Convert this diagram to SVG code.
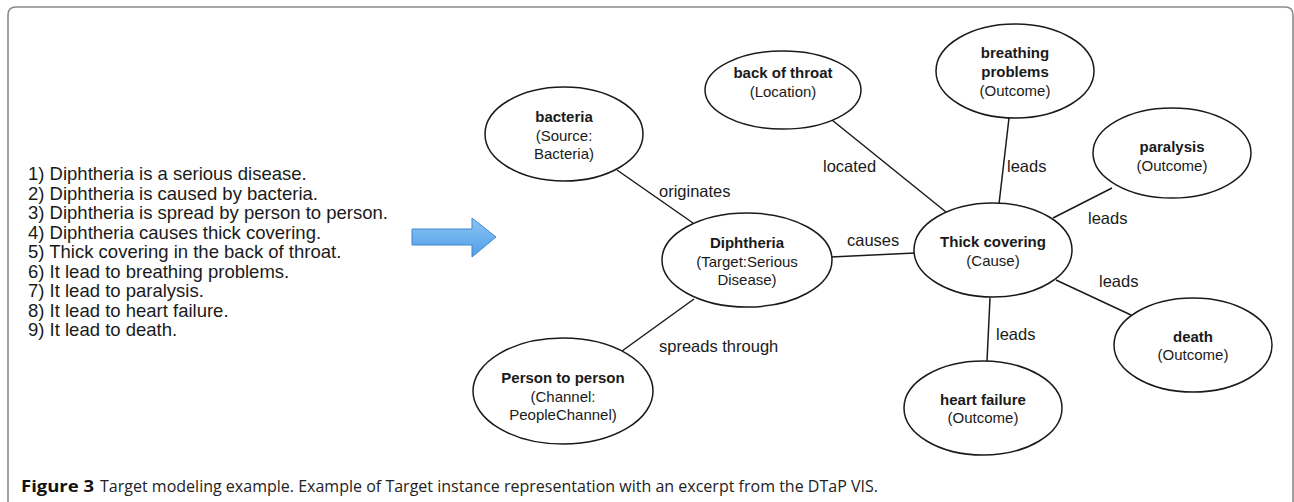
<svg xmlns="http://www.w3.org/2000/svg" width="1294" height="502" viewBox="0 0 1294 502">
<defs>
<style>
.frame{fill:none;stroke:#8a8a8a;stroke-width:1.6}
.node ellipse{fill:#fff;stroke:#1a1a1a;stroke-width:1.5}
.t{font-family:"Liberation Sans",Arial,sans-serif;font-size:15px;fill:#1a1a1a;text-anchor:middle}
.b{font-weight:bold}
.edge{stroke:#1a1a1a;stroke-width:1.5;fill:none}
.el{font-family:"Liberation Sans",Arial,sans-serif;font-size:16.5px;fill:#1a1a1a}
.src{font-family:"Liberation Sans",Arial,sans-serif;font-size:18.5px;fill:#1a1a1a}
.cap{font-family:"Open Sans","Liberation Sans",sans-serif;font-size:16px;fill:#222}
</style>
<linearGradient id="ag" x1="0" y1="0" x2="0" y2="1">
<stop offset="0" stop-color="#8cc6f4"/>
<stop offset="1" stop-color="#4f9de6"/>
</linearGradient>
</defs>
<rect width="1294" height="502" fill="#fff"/>
<path class="frame" d="M8,520 V15 Q8,7 16,7 H1285 Q1293,7 1293,15 V520"/>

<g id="source-text">
<text class="src" x="28" y="180">1) Diphtheria is a serious disease.</text>
<text class="src" x="28" y="199.5">2) Diphtheria is caused by bacteria.</text>
<text class="src" x="28" y="219">3) Diphtheria is spread by person to person.</text>
<text class="src" x="28" y="238.5">4) Diphtheria causes thick covering.</text>
<text class="src" x="28" y="258">5) Thick covering in the back of throat.</text>
<text class="src" x="28" y="277.5">6) It lead to breathing problems.</text>
<text class="src" x="28" y="297">7) It lead to paralysis.</text>
<text class="src" x="28" y="316.5">8) It lead to heart failure.</text>
<text class="src" x="28" y="336">9) It lead to death.</text>
</g>

<g id="arrow">
<polygon points="412,229 472,229 472,218 496,237 472,257 472,245 412,245" fill="url(#ag)" stroke="#3f87cf" stroke-width="1"/>
</g>

<g id="connectors">
<line class="edge" x1="617" y1="170" x2="693" y2="223"/>
<line class="edge" x1="694" y1="299" x2="622" y2="351"/>
<line class="edge" x1="831" y1="257" x2="915" y2="253"/>
<line class="edge" x1="832" y1="120" x2="946" y2="212"/>
<line class="edge" x1="1009" y1="118" x2="999" y2="204"/>
<line class="edge" x1="1112" y1="188" x2="1053" y2="218"/>
<line class="edge" x1="1056" y1="280" x2="1131" y2="315"/>
<line class="edge" x1="990" y1="298" x2="987" y2="361"/>
<text class="el" x="659" y="197">originates</text>
<text class="el" x="659" y="352">spreads through</text>
<text class="el" x="847" y="246">causes</text>
<text class="el" x="823" y="172">located</text>
<text class="el" x="1007" y="172">leads</text>
<text class="el" x="1088" y="224">leads</text>
<text class="el" x="1099" y="287">leads</text>
<text class="el" x="996" y="340">leads</text>
</g>

<g id="node-bacteria" class="node">
<ellipse cx="564" cy="134" rx="79" ry="47"/>
<text class="t b" x="564" y="122">bacteria</text>
<text class="t" x="564" y="141">(Source:</text>
<text class="t" x="564" y="159">Bacteria)</text>
</g>

<g id="node-diphtheria" class="node">
<ellipse cx="747" cy="260" rx="85" ry="47"/>
<text class="t b" x="747" y="248">Diphtheria</text>
<text class="t" x="747" y="267">(Target:Serious</text>
<text class="t" x="747" y="285">Disease)</text>
</g>

<g id="node-person" class="node">
<ellipse cx="563" cy="391" rx="90" ry="53"/>
<text class="t b" x="563" y="383">Person to person</text>
<text class="t" x="563" y="402">(Channel:</text>
<text class="t" x="563" y="420">PeopleChannel)</text>
</g>

<g id="node-throat" class="node">
<ellipse cx="783" cy="90" rx="78" ry="39"/>
<text class="t b" x="783" y="78">back of throat</text>
<text class="t" x="783" y="97">(Location)</text>
</g>

<g id="node-breathing" class="node">
<ellipse cx="1015" cy="71" rx="79" ry="47"/>
<text class="t b" x="1015" y="58">breathing</text>
<text class="t b" x="1015" y="77">problems</text>
<text class="t" x="1015" y="96">(Outcome)</text>
</g>

<g id="node-paralysis" class="node">
<ellipse cx="1172" cy="153" rx="79" ry="45"/>
<text class="t b" x="1172" y="152">paralysis</text>
<text class="t" x="1172" y="171">(Outcome)</text>
</g>

<g id="node-thick" class="node">
<ellipse cx="993" cy="250" rx="79" ry="47"/>
<text class="t b" x="993" y="247">Thick covering</text>
<text class="t" x="993" y="266">(Cause)</text>
</g>

<g id="node-death" class="node">
<ellipse cx="1193" cy="345" rx="79" ry="47"/>
<text class="t b" x="1193" y="342">death</text>
<text class="t" x="1193" y="360">(Outcome)</text>
</g>

<g id="node-heart" class="node">
<ellipse cx="983" cy="408" rx="79" ry="47"/>
<text class="t b" x="983" y="405">heart failure</text>
<text class="t" x="983" y="423">(Outcome)</text>
</g>

<g id="caption">
<text class="cap" y="492"><tspan x="21" font-weight="bold" fill="#111" textLength="73" lengthAdjust="spacingAndGlyphs">Figure 3</tspan><tspan x="100" textLength="778" lengthAdjust="spacingAndGlyphs">Target modeling example. Example of Target instance representation with an excerpt from the DTaP VIS.</tspan></text>
</g>
</svg>
